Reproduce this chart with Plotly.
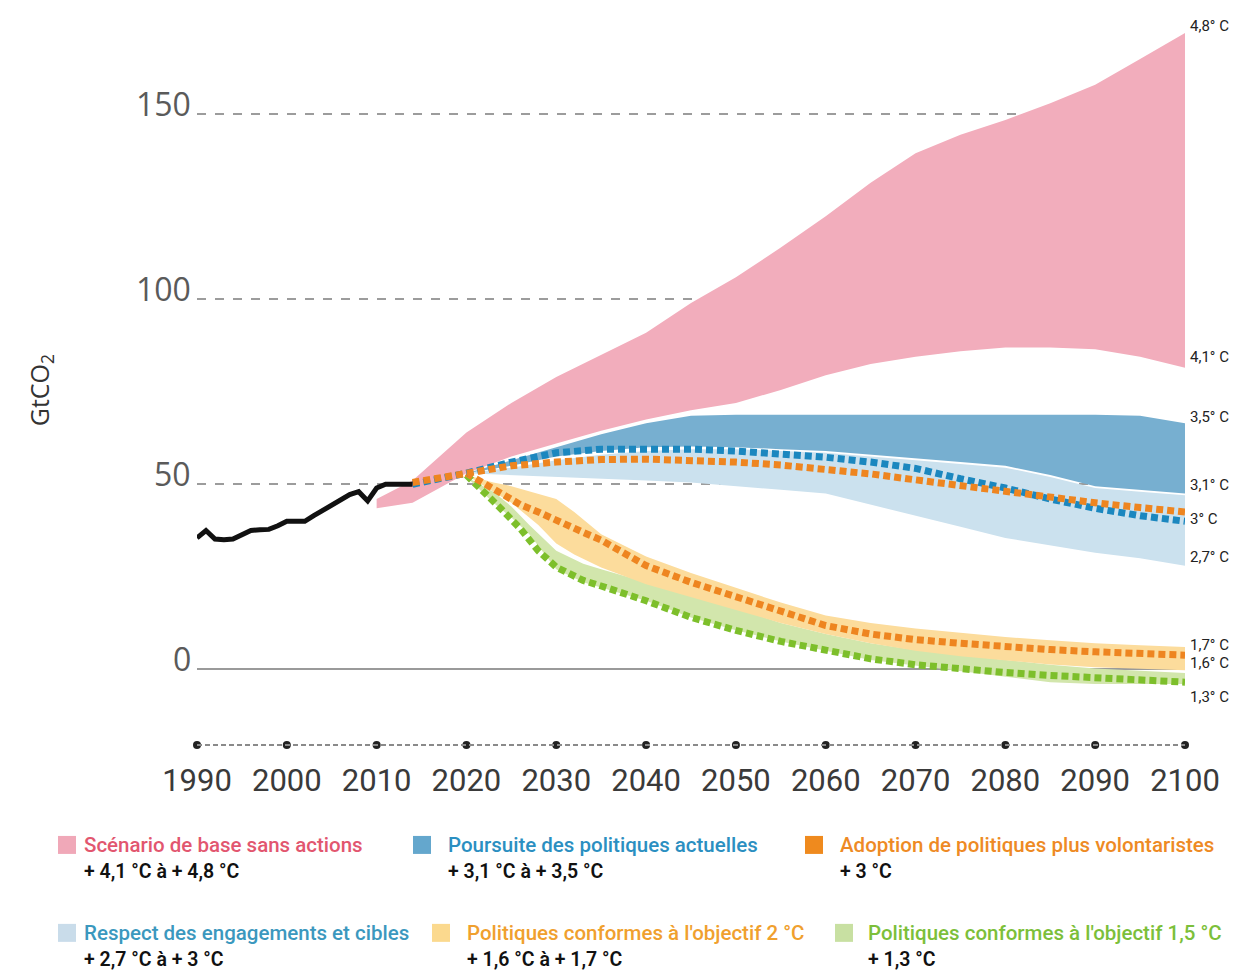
import plotly.graph_objects as go

# ---------------- data ----------------
hist_years = [1990, 1991, 1992, 1993, 1994, 1995, 1996, 1997, 1998, 1999, 2000, 2001, 2002,
              2003, 2004, 2005, 2006, 2007, 2008, 2009, 2010, 2011, 2012, 2013, 2014]
hist_vals = [35.5, 37.5, 35.2, 35.0, 35.2, 36.5, 37.5, 37.7, 37.8, 38.8, 40.0, 40.0, 40.0,
             41.5, 43.0, 44.5, 46.0, 47.2, 48.0, 45.5, 49.0, 50.0, 50.0, 50.0, 50.0]

base_years = [2010, 2014, 2020, 2025, 2030, 2035, 2040, 2045, 2050, 2055, 2060, 2065, 2070,
              2075, 2080, 2085, 2090, 2095, 2100]
base_upper = [46, 51, 64, 72, 79, 85, 91, 99, 106, 114, 122.5, 131.5, 139.5, 144.5, 148.5,
              153, 158, 165, 172]
base_lower = [43.5, 45, 53, 57.5, 61, 64.5, 67.5, 70, 72, 75.5, 79.5, 82.5, 84.5, 86, 87,
              87, 86.5, 84.5, 81.5]

band_years = [2020, 2025, 2030, 2035, 2040, 2045, 2050, 2055, 2060, 2065, 2070, 2075, 2080,
              2085, 2090, 2095, 2100]
current_upper = [53, 56.5, 60, 63.5, 66.5, 68.5, 68.8, 68.8, 68.8, 68.8, 68.8, 68.8, 68.8,
                 68.8, 68.8, 68.5, 66.5]
current_lower = [53, 55, 57.5, 59, 60, 60.2, 60, 59.5, 59, 58, 57, 56, 55, 52.5, 49.5, 48.5, 47.5]
pledges_upper = [53, 54.5, 56.5, 58, 59, 59.5, 59.5, 59, 58.5, 57.5, 56.5, 55.5, 54.5, 52, 49,
                 48, 47]
pledges_lower = [53, 52.5, 52, 51.5, 51, 50.5, 49.5, 48.5, 47.5, 44.5, 41.5, 38.5, 35.5, 33.5,
                 31.5, 30, 28]

mid_years = [2014, 2020, 2025, 2030, 2035, 2040, 2045, 2050, 2055, 2060, 2065, 2070, 2075,
             2080, 2085, 2090, 2095, 2100]
current_line = [50, 53, 56, 58.5, 59.5, 59.7, 59.5, 59, 58.3, 57.3, 56, 54.3, 51.5, 49, 46,
                43.5, 41.5, 40]
ambitious_line = [50.5, 53, 55, 56, 56.7, 56.8, 56.5, 56, 55.2, 54.2, 52.8, 51.2, 49.6, 48,
                  46.5, 45, 43.7, 42.5]

two_years = [2020, 2023, 2025, 2028, 2030, 2032, 2035, 2040, 2045, 2050, 2055, 2060, 2065,
             2070, 2075, 2080, 2085, 2090, 2095, 2100]
two_upper = [52.5, 50.5, 49.5, 47.5, 46, 42.5, 36.5, 30.5, 26, 22, 18, 14.5, 12.5, 11, 9.8,
             8.7, 7.8, 7, 6.5, 6]
two_lower = [52.5, 48, 45, 39, 34, 31, 27.5, 23, 19.5, 16, 12.5, 9.5, 7, 5, 3.5, 2.3, 1.3,
             0.5, 0, -0.3]

onefive_years = [2020, 2023, 2025, 2027, 2030, 2033, 2035, 2040, 2045, 2050, 2055, 2060, 2065,
                 2070, 2075, 2080, 2085, 2090, 2095, 2100]
onefive_upper = [52, 48, 44, 39, 32, 28.5, 27, 23.5, 20, 16.5, 12.5, 9.5, 7, 5.2, 3.8, 2.5,
                 1.2, 0.2, -0.5, -1]
onefive_lower = [52, 45, 41, 36.5, 27, 23.5, 22, 18.5, 14, 10.5, 7.5, 5, 2.5, 1, -0.5, -2,
                 -3.5, -4, -4, -4]

line_years = [2020, 2022, 2024, 2026, 2028, 2030, 2033, 2035, 2040, 2045, 2050, 2055, 2060,
              2065, 2070, 2075, 2080, 2085, 2090, 2095, 2100]
two_line = [53, 50, 47, 44.5, 42.5, 40.5, 37, 34.9, 28, 23.5, 19.5, 15.5, 11.8, 9.5, 8, 7, 6,
            5.3, 4.7, 4.2, 3.8]
onefive_line = [52.5, 48, 43, 38, 32, 27.6, 24, 22.5, 18.5, 14, 10.5, 7.5, 5, 2.8, 1.2, 0,
                -0.9, -1.7, -2.3, -2.9, -3.5]

end_labels = ["4,8° C", "4,1° C", "3,5° C", "3,1° C", "3° C", "2,7° C", "1,7° C", "1,6° C", "1,3° C"]
end_label_y = [174, 84.3, 68.1, 49.7, 40.5, 30.3, 6.5, 1.6, -7.6]

x_ticks = [1990, 2000, 2010, 2020, 2030, 2040, 2050, 2060, 2070, 2080, 2090, 2100]
y_ticks = [0, 50, 100, 150]

legend_titles = ["Scénario de base sans actions", "Poursuite des politiques actuelles",
                 "Adoption de politiques plus volontaristes", "Respect des engagements et cibles",
                 "Politiques conformes à l'objectif 2 °C", "Politiques conformes à l'objectif 1,5 °C"]
legend_subs = ["+ 4,1 °C à + 4,8 °C", "+ 3,1 °C à + 3,5 °C", "+ 3 °C",
               "+ 2,7 °C à + 3 °C", "+ 1,6 °C à + 1,7 °C", "+ 1,3 °C"]

# ---------------- styles ----------------
PINK = "#f2adbc"
BLUE_BAND = "#77afd0"
LBLUE_BAND = "#cbe1ee"
YELLOW_BAND = "#fcdc9c"
GREEN_BAND = "#d2e6ac"
BLUE_LINE = "#1b87bf"
ORANGE_LINE = "#ee8520"
GREEN_LINE = "#7dbf2b"

COND = "Roboto, Liberation Sans, sans-serif"
REG = "Open Sans, Noto Sans, DejaVu Sans, sans-serif"

# page offset (default body margin of the html page)
OFF = 8
Y_MIN, Y_MAX = -20.5, 175
W, H = 1240, 965
L, T = 197 - OFF, 21.5 - OFF
PLOT_RIGHT, PLOT_BOTTOM = 1185 - OFF, 745 - OFF
R, B = W - PLOT_RIGHT, H - PLOT_BOTTOM
PW, PH = PLOT_RIGHT - L, PLOT_BOTTOM - T


def px(xp):
    return (xp - OFF - L) / PW


def py(yp):
    return (PLOT_BOTTOM - (yp - OFF)) / PH


fig = go.Figure()


def band(xs, up, lo, color):
    fig.add_trace(go.Scatter(x=list(xs) + list(xs)[::-1], y=list(up) + list(lo)[::-1],
                             fill="toself", fillcolor=color, line=dict(width=0),
                             mode="lines", hoverinfo="skip"))


band(band_years, pledges_upper, pledges_lower, LBLUE_BAND)
band(band_years, current_upper, current_lower, BLUE_BAND)
band(base_years, base_upper, base_lower, PINK)
band(onefive_years, onefive_upper, onefive_lower, GREEN_BAND)
band(two_years, two_upper, two_lower, YELLOW_BAND)

DOT = "7px,4px"
fig.add_trace(go.Scatter(x=line_years, y=onefive_line, mode="lines",
                         line=dict(color=GREEN_LINE, width=7, dash=DOT)))
fig.add_trace(go.Scatter(x=line_years, y=two_line, mode="lines",
                         line=dict(color=ORANGE_LINE, width=7, dash=DOT)))
fig.add_trace(go.Scatter(x=mid_years, y=current_line, mode="lines",
                         line=dict(color=BLUE_LINE, width=7, dash=DOT)))
fig.add_trace(go.Scatter(x=mid_years, y=ambitious_line, mode="lines",
                         line=dict(color=ORANGE_LINE, width=7, dash=DOT)))
fig.add_trace(go.Scatter(x=hist_years, y=hist_vals, mode="lines",
                         line=dict(color="#111111", width=5)))

# x-axis decoration: dashed line with dots
fig.add_shape(type="line", xref="x", yref="paper", x0=x_ticks[0], x1=x_ticks[-1], y0=0, y1=0,
              line=dict(color="#8a8a8a", width=2, dash="5px,3px"))
fig.add_trace(go.Scatter(x=x_ticks, y=[Y_MIN] * len(x_ticks), mode="markers", cliponaxis=False,
                         marker=dict(color="#222222", size=8)))

# y tick labels
for v in y_ticks:
    fig.add_annotation(x=0, xref="paper", y=v, yref="y", text=str(v), showarrow=False,
                       xanchor="right", yanchor="middle", xshift=-4, yshift=11,
                       font=dict(family=REG, size=32, color="#5a5a5a"))

# y axis title
fig.add_annotation(x=px(40), xref="paper", y=py(390), yref="paper", text="GtCO<sub>2</sub>",
                   showarrow=False, textangle=-90, xanchor="center", yanchor="middle",
                   font=dict(family=REG, size=25, color="#333333"))

# right end labels
for t, v in zip(end_labels, end_label_y):
    fig.add_annotation(x=x_ticks[-1], xref="x", y=v, yref="y", text=t, showarrow=False,
                       xanchor="left", yanchor="middle", xshift=3,
                       font=dict(family=COND, size=15, color="#222222"))

# legend
leg_sq_colors = ["#f0a8b8", "#64a7cd", "#ef8a1e", "#c9dcea", "#fbd98e", "#c8e0a2"]
leg_txt_colors = ["#e2566f", "#2b8fc1", "#ee8a24", "#3b98be", "#f0a02e", "#7cbf3a"]
leg_sq_x = [58, 413, 805, 58, 432, 835]
leg_txt_x = [82, 446, 838, 82, 465, 866]
leg_row_y = [845, 845, 845, 933, 933, 933]
for i in range(6):
    fig.add_shape(type="rect", xref="paper", yref="paper",
                  x0=px(leg_sq_x[i]), x1=px(leg_sq_x[i] + 18),
                  y0=py(leg_row_y[i] + 9), y1=py(leg_row_y[i] - 9),
                  fillcolor=leg_sq_colors[i], line=dict(width=0))
    fig.add_annotation(x=px(leg_txt_x[i]), xref="paper", y=py(leg_row_y[i]), yref="paper",
                       text=legend_titles[i], showarrow=False, xanchor="left", yanchor="middle",
                       font=dict(family=COND, size=20.5, color=leg_txt_colors[i], weight=500))
    fig.add_annotation(x=px(leg_txt_x[i]), xref="paper", y=py(leg_row_y[i] + 27), yref="paper",
                       text=legend_subs[i], showarrow=False, xanchor="left",
                       yanchor="middle",
                       font=dict(family=COND, size=19.5, color="#111111", weight=600))

fig.update_layout(
    width=W, height=H, showlegend=False,
    paper_bgcolor="white", plot_bgcolor="white",
    margin=dict(l=L, r=R, t=T, b=B, pad=0),
    xaxis=dict(range=[x_ticks[0], x_ticks[-1]], tickvals=x_ticks, showgrid=False,
               zeroline=False, showline=False, ticks="", ticklabelstandoff=14,
               tickfont=dict(family=COND, size=31, color="#3a3a3a")),
    yaxis=dict(range=[Y_MIN, Y_MAX], tickvals=y_ticks, showticklabels=False, showgrid=True,
               gridcolor="#9c9c9c", griddash="dash", gridwidth=1.5,
               zeroline=True, zerolinecolor="#9a9a9a", zerolinewidth=2, showline=False),
)

fig.write_html("out.html")
